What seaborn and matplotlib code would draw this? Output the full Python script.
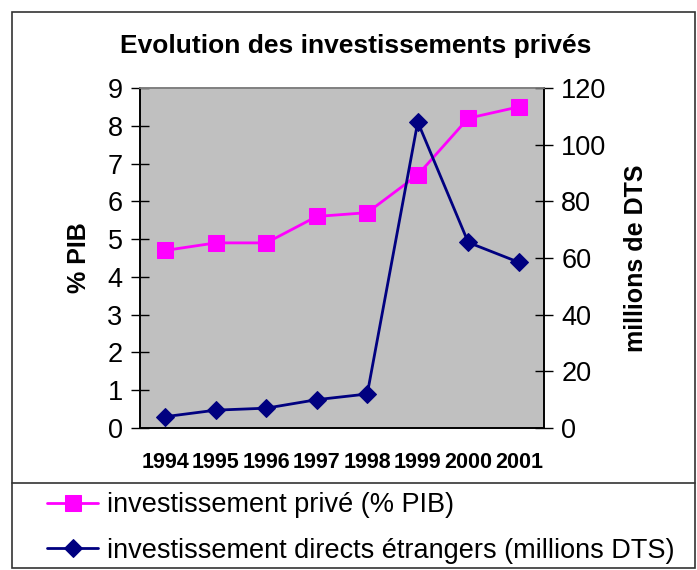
import numpy as np
import pandas as pd
import matplotlib
matplotlib.use("Agg")
import matplotlib.pyplot as plt
from matplotlib.lines import Line2D
from matplotlib.patches import Rectangle
import seaborn as sns

years = ["1994", "1995", "1996", "1997", "1998", "1999", "2000", "2001"]
prive_pib = [4.7, 4.9, 4.9, 5.6, 5.7, 6.7, 8.2, 8.5]
ide_dts = [4.0, 6.3, 7.0, 10.0, 12.0, 108.0, 65.5, 58.5]
left_ticks = list(range(0, 10))
right_ticks = [0, 20, 40, 60, 80, 100, 120]

title = "Evolution des investissements privés"
ylabel_left = "% PIB"
ylabel_right = "millions de DTS"
label_prive = "investissement privé (% PIB)"
label_ide = "investissement directs étrangers (millions DTS)"

sns.set_theme(style="white")
plt.rcParams['font.family'] = ['Liberation Sans', 'DejaVu Sans']
plt.rcParams['text.color'] = 'black'
plt.rcParams['axes.labelcolor'] = 'black'
plt.rcParams['xtick.color'] = 'black'
plt.rcParams['ytick.color'] = 'black'

W, H = 697, 570
fig = plt.figure(figsize=(W / 100, H / 100), dpi=100)

def fx(px):
    return px / W

def fy(py):
    return 1 - py / H

ax_l, ax_r_px, ax_t, ax_b = 140, 544, 88, 428
ax = fig.add_axes([fx(ax_l), fy(ax_b), fx(ax_r_px - ax_l), (ax_b - ax_t) / H])
ax.set_facecolor("#C0C0C0")
ax2 = ax.twinx()

df = pd.DataFrame({"pos": np.arange(len(years)), "prive": prive_pib, "ide": ide_dts})

sns.lineplot(data=df, x="pos", y="prive", ax=ax, color="#FF00FF", linewidth=2,
             marker="s", markersize=12, markeredgecolor="#FF00FF", label=label_prive,
             legend=False)
sns.lineplot(data=df, x="pos", y="ide", ax=ax2, color="#000080", linewidth=2,
             marker="D", markersize=9, markeredgecolor="#000080", label=label_ide,
             legend=False)

ax.set_xlim(-0.5, len(years) - 0.5)
ax.set_ylim(0, 9)
ax2.set_ylim(0, 120)
ax.set_yticks(left_ticks)
ax.set_yticklabels([str(t) for t in left_ticks])
ax2.set_yticks(right_ticks)
ax2.set_yticklabels([str(t) for t in right_ticks])

ax.set_xticks(np.arange(-0.5, len(years), 1.0))
ax.set_xticklabels([])
ax.set_xticks(np.arange(len(years)), minor=True)
ax.set_xticklabels(years, minor=True, fontsize=15.5, fontweight="bold")
ax.tick_params(axis="x", which="major", direction="inout", length=13, width=1, color="black")
ax.tick_params(axis="x", which="minor", length=0, pad=17)
ax.tick_params(axis="y", direction="inout", length=13, width=1, color="black",
               labelsize=19.5, pad=6, left=True)
ax2.tick_params(axis="y", direction="inout", length=13, width=1, color="black",
                labelsize=19.5, pad=6, right=True)
ax.set_xlabel("")
ax.set_ylabel(ylabel_left, fontsize=18, fontweight="bold")
ax2.set_ylabel(ylabel_right, fontsize=18, fontweight="bold")
ax.yaxis.set_label_coords((91 - ax_l) / (ax_r_px - ax_l), 0.5)
ax2.yaxis.set_label_coords((624 - ax_l) / (ax_r_px - ax_l), 0.5)
ax.grid(False)
ax2.grid(False)

for a in (ax, ax2):
    for s in a.spines.values():
        s.set_visible(True)
        s.set_color("black")
        s.set_linewidth(1.2)
    a.spines["top"].set_color("#808080")

fig.text(fx(356), fy(46), title, ha="center", va="center", fontsize=19, fontweight="bold")

# outer frame and legend separator
fig.patches.append(Rectangle((fx(12), fy(568)), fx(695 - 12), (568 - 12) / H,
                             transform=fig.transFigure, fill=False,
                             edgecolor="#333333", linewidth=1.2))
fig.lines.append(Line2D([fx(12), fx(695)], [fy(483), fy(483)], transform=fig.transFigure,
                        color="#333333", linewidth=1.2))

h1, l1 = ax.get_legend_handles_labels()
h2, l2 = ax2.get_legend_handles_labels()
fig.legend(h1 + h2, l1 + l2, loc="center left", bbox_to_anchor=(fx(47), fy(528)),
           frameon=False, fontsize=19.5, handlelength=1.9, handletextpad=0.3,
           labelspacing=0.72, borderpad=0, borderaxespad=0)

fig.savefig("out.png", dpi=100)
